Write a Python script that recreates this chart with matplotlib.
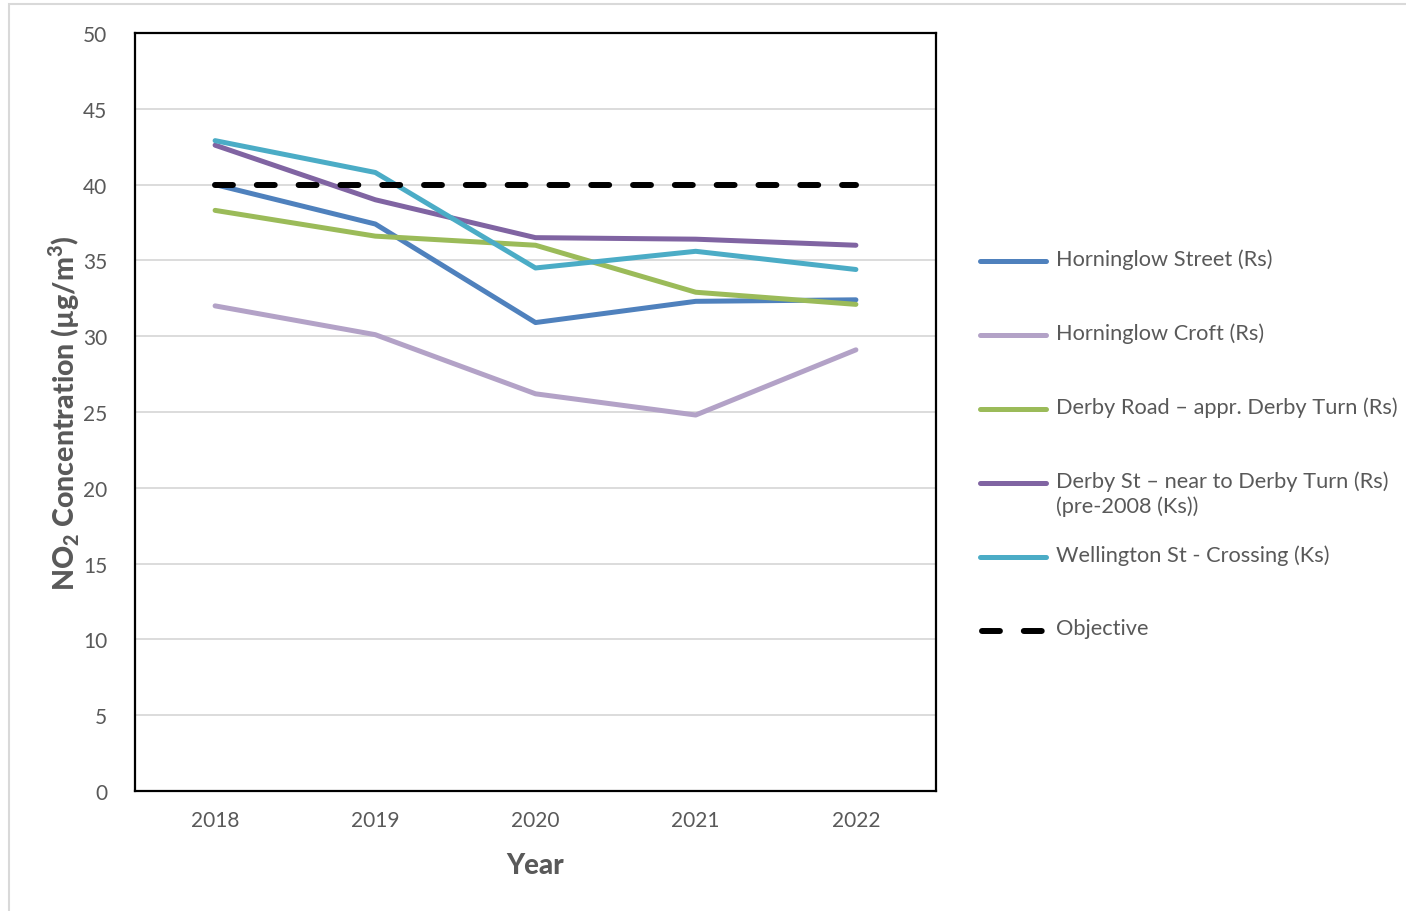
import matplotlib
matplotlib.use("Agg")
import matplotlib.pyplot as plt
from matplotlib.lines import Line2D
from matplotlib.patches import Rectangle

years = ["2018", "2019", "2020", "2021", "2022"]
horninglow_street = [40.0, 37.4, 30.9, 32.3, 32.4]
horninglow_croft = [32.0, 30.1, 26.2, 24.8, 29.1]
derby_road = [38.3, 36.6, 36.0, 32.9, 32.1]
derby_st = [42.6, 39.0, 36.5, 36.4, 36.0]
wellington_st = [42.9, 40.8, 34.5, 35.6, 34.4]
objective = [40, 40, 40, 40, 40]

series_labels = [
    "Horninglow Street (Rs)",
    "Horninglow Croft (Rs)",
    "Derby Road \u2013 appr. Derby Turn (Rs)",
    "Derby St \u2013 near to Derby Turn (Rs)\n(pre-2008 (Ks))",
    "Wellington St - Crossing (Ks)",
    "Objective",
]
colors = ["#4F81BD", "#B3A2C7", "#9BBB59", "#8064A2", "#4BACC6", "#000000"]

plt.rcParams["font.family"] = ["Lato", "DejaVu Sans"]
plt.rcParams["mathtext.fontset"] = "custom"
plt.rcParams["mathtext.rm"] = "Lato"
plt.rcParams["mathtext.bf"] = "Lato:black"

fig = plt.figure(figsize=(14.06, 9.12), dpi=100)
fig.add_artist(Rectangle((9 / 1406, -0.1), 1.2, 1 - 5 / 912 + 0.1, transform=fig.transFigure,
                         facecolor="white", edgecolor="#D9D9D9", linewidth=1.5, zorder=-5))

ax = fig.add_axes([135 / 1406, 120 / 912, 801 / 1406, 758 / 912])
x = list(range(len(years)))
data = [horninglow_street, horninglow_croft, derby_road, derby_st, wellington_st]
lw = 3.6
lw_obj = 4.3
obj_dash = (3.0, 4.0)
for vals, c in zip(data, colors[:5]):
    ax.plot(x, vals, color=c, lw=lw, solid_capstyle="round", solid_joinstyle="round", zorder=3)
ax.plot(x, objective, color="black", lw=lw_obj, dashes=obj_dash, dash_capstyle="round", zorder=4)

ax.set_xlim(-0.5, 4.5)
ax.set_ylim(0, 50)
ax.set_yticks(range(0, 51, 5))
ax.set_xticks(x)
ax.set_xticklabels(years)
ax.tick_params(axis="both", length=0, labelsize=15, colors="#595959")
ax.tick_params(axis="y", pad=20)
ax.tick_params(axis="x", pad=14)
ax.grid(axis="y", color="#D9D9D9", lw=1.3)
ax.set_axisbelow(True)
for s in ax.spines.values():
    s.set_color("black")
    s.set_linewidth(1.6)

ax.set_ylabel(r"NO$_\mathbf{2}$ Concentration (µg/m$^\mathbf{3}$)", fontsize=20.5, fontweight="black",
              color="#595959", va="center")
ax.yaxis.set_label_coords(-(135 - 64) / 801, 0.5)
ax.set_xlabel("Year", fontsize=20, fontweight="black", color="#595959", va="center")
ax.xaxis.set_label_coords(0.5, -(866 - 792) / 758)

# manual legend (Excel-style, evenly spaced)
H = 912
ys = [262, 336, 410, 484, 558, 632]
for lab, c, yy in zip(series_labels, colors, ys):
    yf = 1 - yy / H
    if lab == "Objective":
        ln = Line2D([982 / 1406, 1043 / 1406], [yf, yf], transform=fig.transFigure, color=c,
                    lw=lw_obj, dashes=obj_dash, dash_capstyle="round")
    else:
        ln = Line2D([980 / 1406, 1046 / 1406], [yf, yf], transform=fig.transFigure, color=c,
                    lw=lw, solid_capstyle="round")
    fig.add_artist(ln)
    fig.text(1056 / 1406, 1 - (yy - 13) / H, lab, fontsize=15.7, color="#595959", va="top", ha="left",
             linespacing=1.3)

fig.savefig("out.png", dpi=100)
